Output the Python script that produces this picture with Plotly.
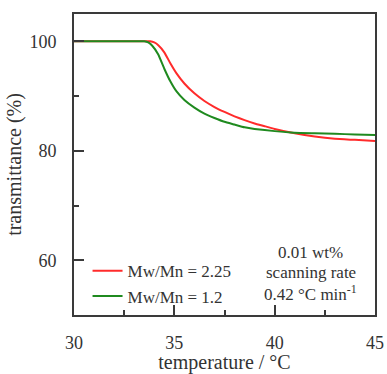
import plotly.graph_objects as go

# Transmittance vs. temperature for two polydispersities
temp_broad = [30, 32, 33.8, 34.0, 34.2, 34.5, 34.8, 35.1, 35.5, 36.0, 36.5, 37.0, 37.5,
              38.0, 38.5, 39.0, 39.5, 40.0, 41.0, 42.0, 43.0, 44.0, 45.0]
trans_broad = [100, 100, 100, 99.8, 99.3, 98.0, 96.0, 94.2, 92.3, 90.5, 89.1, 88.0, 87.1,
               86.3, 85.6, 85.0, 84.5, 84.0, 83.2, 82.6, 82.2, 82.0, 81.8]

temp_narrow = [30, 32, 33.5, 33.7, 33.9, 34.2, 34.5, 34.8, 35.1, 35.5, 36.0, 36.5, 37.0,
               37.5, 38.0, 38.5, 39.0, 40.0, 41.0, 42.0, 43.0, 44.0, 45.0]
trans_narrow = [100, 100, 100, 99.8, 99.2, 97.6, 95.0, 92.7, 90.9, 89.3, 87.9, 86.8, 86.0,
                85.3, 84.8, 84.3, 84.0, 83.6, 83.3, 83.2, 83.1, 83.0, 82.9]

series_names = ["Mw/Mn = 2.25", "Mw/Mn = 1.2"]
series_colors = ["#ff2b2b", "#1f8a1f"]

x_ticks = [30, 35, 40, 45]
y_ticks = [60, 80, 100]

# Measurement conditions, one line each
condition_lines = ["0.01 wt%", "scanning rate", "0.42 °C min<sup>-1</sup>"]
condition_y = [0.208, 0.142, 0.074]

FONT = "Liberation Serif, Times New Roman, DejaVu Serif, serif"
AXIS_COLOR = "#3a3a3a"
TEXT_COLOR = "#333333"

fig = go.Figure()
for t, v, name, color in [
    (temp_broad, trans_broad, series_names[0], series_colors[0]),
    (temp_narrow, trans_narrow, series_names[1], series_colors[1]),
]:
    fig.add_trace(go.Scatter(
        x=t, y=v, mode="lines", name=name,
        line=dict(color=color, width=2, shape="spline", smoothing=0.4),
    ))

fig.update_layout(
    width=387, height=374,
    margin=dict(l=74, r=12, t=14, b=59),
    paper_bgcolor="white", plot_bgcolor="white",
    font=dict(family=FONT, size=18, color=TEXT_COLOR),
    showlegend=True,
    legend=dict(
        x=0.045, y=0.205, xanchor="left", yanchor="top",
        bgcolor="rgba(0,0,0,0)", borderwidth=0,
        font=dict(family=FONT, size=17, color=TEXT_COLOR),
        tracegroupgap=0, itemwidth=30,
    ),
    annotations=[
        dict(x=0.787, y=yy, xref="paper", yref="paper",
             xanchor="center", yanchor="middle", showarrow=False,
             text=txt, font=dict(family=FONT, size=17, color=TEXT_COLOR))
        for txt, yy in zip(condition_lines, condition_y)
    ],
)

fig.update_xaxes(
    range=[30, 45], tickvals=x_ticks, ticks="inside", ticklen=10, tickwidth=2,
    tickcolor=AXIS_COLOR, showline=True, linewidth=2, linecolor=AXIS_COLOR,
    mirror=True, showgrid=False, zeroline=False, ticklabelstandoff=10,
    automargin=False,
    minor=dict(ticks="inside", ticklen=5, tickwidth=2, tickcolor=AXIS_COLOR,
               dtick=2.5, tick0=30, showgrid=False),
    title=dict(text="temperature / °C", font=dict(family=FONT, size=20), standoff=6),
)
fig.update_yaxes(
    range=[50, 105], tickvals=y_ticks, ticks="inside", ticklen=10, tickwidth=2,
    tickcolor=AXIS_COLOR, showline=True, linewidth=2, linecolor=AXIS_COLOR,
    mirror=True, showgrid=False, zeroline=False, ticklabelstandoff=12,
    automargin=False,
    minor=dict(ticks="inside", ticklen=5, tickwidth=2, tickcolor=AXIS_COLOR,
               dtick=10, tick0=50, showgrid=False),
    title=dict(text="transmittance (%)", font=dict(family=FONT, size=20), standoff=2),
)

fig.write_html("out.html")
